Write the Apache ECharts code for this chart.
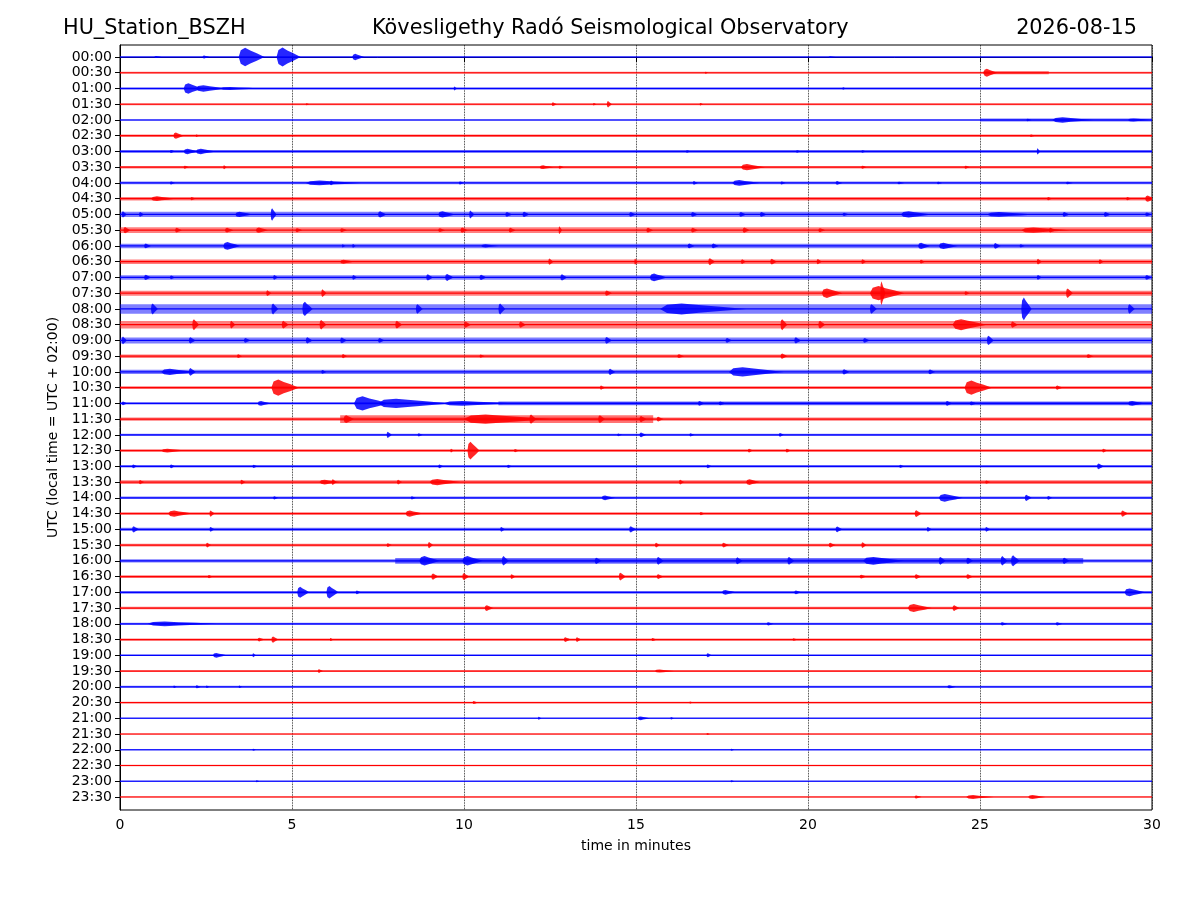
<!DOCTYPE html>
<html>
<head>
<meta charset="utf-8">
<script src="https://cdn.jsdelivr.net/npm/echarts@6/dist/echarts.min.js"></script>
<style>html,body{margin:0;padding:0;background:#fff}#c{width:1200px;height:900px}</style>
</head>
<body>
<div id="c"></div>
<script>
// Row (tick) labels, top to bottom
const tickLabels = ["00:00","00:30","01:00","01:30","02:00","02:30","03:00","03:30","04:00","04:30",
  "05:00","05:30","06:00","06:30","07:00","07:30","08:00","08:30","09:00","09:30",
  "10:00","10:30","11:00","11:30","12:00","12:30","13:00","13:30","14:00","14:30",
  "15:00","15:30","16:00","16:30","17:00","17:30","18:00","18:30","19:00","19:30",
  "20:00","20:30","21:00","21:30","22:00","22:30","23:00","23:30"];
const xTicks = [0, 5, 10, 15, 20, 25, 30];

// Background noise half-amplitude of each row (in row-spacing units)
const noiseLevel = [0.05,0.07,0.08,0.07,0.05,0.08,0.09,0.08,0.09,0.11,
  0.17,0.18,0.14,0.14,0.14,0.16,0.30,0.24,0.19,0.11,
  0.13,0.09,0.07,0.11,0.07,0.08,0.08,0.12,0.08,0.08,
  0.10,0.09,0.10,0.09,0.09,0.08,0.07,0.07,0.05,0.05,
  0.06,0.05,0.05,0.04,0.05,0.05,0.04,0.04];

// Stretches of raised noise: [row, start min, end min, half-amplitude]
const noiseSegments = [
  [1,25.1,27.0,0.1],[4,25,30,0.09],[22,11,30,0.12],[23,6.4,15.5,0.24],[32,8,28,0.18]
];

// Wave bursts: [row, start min, end min, peak half-amplitude]
const bursts = [
 [0,1.0,1.2,0.06],[0,2.4,2.6,0.1],[0,3.45,4.2,0.58],[0,4.55,5.25,0.6],[0,6.75,7.1,0.2],[0,20.6,20.8,0.05],
 [1,25.1,25.5,0.25],[1,17.0,17.1,0.06],
 [2,1.85,2.4,0.33],[2,2.2,3.1,0.2],[2,2.9,4.1,0.1],[2,9.7,9.8,0.12],[2,21.0,21.1,0.08],
 [3,12.55,12.7,0.12],[3,13.75,13.85,0.08],[3,14.15,14.3,0.2],[3,16.85,16.95,0.08],[3,5.4,5.5,0.06],
 [4,27.1,28.3,0.17],[4,29.3,29.95,0.1],[4,26.35,26.5,0.08],
 [5,1.55,1.85,0.2],[5,26.45,26.6,0.08],[5,2.2,2.3,0.08],
 [6,1.85,2.3,0.17],[6,2.2,2.8,0.17],[6,1.45,1.6,0.1],[6,26.65,26.75,0.2],[6,16.45,16.6,0.08],[6,19.65,19.8,0.08],[6,21.55,21.7,0.08],
 [7,1.85,2.0,0.1],[7,3.0,3.1,0.13],[7,12.2,12.6,0.12],[7,12.75,12.9,0.1],[7,18.05,18.75,0.2],[7,21.55,21.7,0.1],[7,24.55,24.7,0.1],
 [8,1.45,1.6,0.1],[8,5.4,7.0,0.15],[8,6.1,6.25,0.15],[8,9.85,10.0,0.1],[8,16.65,16.8,0.12],[8,17.8,18.6,0.18],[8,19.2,19.35,0.1],[8,20.8,21.0,0.12],[8,22.6,22.8,0.08],[8,23.75,23.9,0.08],[8,27.5,27.7,0.08],
 [9,0.9,1.6,0.15],[9,2.05,2.2,0.1],[9,26.95,27.1,0.1],[9,29.25,29.4,0.1],[9,29.8,30.1,0.2],
 [10,0.05,0.2,0.2],[10,0.55,0.7,0.15],[10,3.35,3.85,0.17],[10,4.38,4.55,0.4],[10,7.5,7.75,0.2],[10,9.25,9.75,0.2],[10,10.15,10.3,0.25],[10,11.2,11.4,0.15],[10,11.7,11.9,0.17],[10,14.8,15.0,0.15],[10,16.6,16.8,0.15],[10,18.0,18.2,0.15],[10,18.6,18.8,0.15],[10,21.0,21.2,0.1],[10,22.7,23.6,0.2],[10,25.2,26.6,0.15],[10,27.4,27.6,0.15],[10,28.6,28.8,0.15],[10,29.8,30.0,0.12],
 [11,0.1,0.3,0.2],[11,1.6,1.8,0.15],[11,3.05,3.3,0.15],[11,3.95,4.3,0.17],[11,5.1,5.3,0.13],[11,6.4,6.6,0.13],[11,9.25,9.45,0.12],[11,9.9,10.1,0.17],[11,11.3,11.5,0.15],[11,12.75,12.85,0.25],[11,15.3,15.5,0.15],[11,16.6,16.8,0.15],[11,18.1,18.3,0.17],[11,20.3,20.5,0.13],[11,26.2,27.6,0.17],[11,27.0,27.2,0.15],
 [12,0.7,0.9,0.15],[12,3.0,3.5,0.25],[12,6.45,6.55,0.1],[12,6.75,6.85,0.12],[12,10.5,11.0,0.1],[12,16.5,16.7,0.15],[12,17.2,17.4,0.15],[12,23.2,23.55,0.2],[12,23.8,24.35,0.2],[12,25.4,25.6,0.18],[12,26.15,26.3,0.1],
 [13,6.4,6.8,0.13],[13,12.45,12.6,0.2],[13,14.95,15.05,0.2],[13,17.1,17.3,0.22],[13,18.05,18.2,0.15],[13,18.9,19.1,0.18],[13,20.25,20.4,0.17],[13,21.55,21.7,0.15],[13,23.25,23.4,0.12],[13,26.65,26.8,0.18],[13,28.45,28.6,0.15],
 [14,0.7,0.9,0.17],[14,1.45,1.6,0.12],[14,4.45,4.6,0.15],[14,6.75,6.9,0.15],[14,8.9,9.1,0.2],[14,9.45,9.7,0.22],[14,10.45,10.65,0.17],[14,12.8,13.0,0.2],[14,15.4,15.9,0.25],[14,26.65,26.8,0.15],[14,29.8,30.0,0.15],
 [15,4.25,4.4,0.18],[15,5.85,6.0,0.25],[15,14.1,14.3,0.17],[15,20.4,21.0,0.3],[15,21.8,22.8,0.45],[15,22.1,22.25,0.76],[15,27.5,27.7,0.3],[15,24.55,24.7,0.12],
 [16,0.9,1.1,0.35],[16,4.4,4.6,0.35],[16,5.3,5.6,0.45],[16,8.6,8.8,0.3],[16,11.0,11.2,0.35],[16,15.7,18.2,0.35],[16,21.8,22.0,0.3],[16,26.2,26.5,0.72],[16,29.3,29.5,0.3],
 [17,2.1,2.3,0.35],[17,3.2,3.35,0.25],[17,4.7,4.9,0.25],[17,5.8,6.0,0.3],[17,8.0,8.2,0.25],[17,10.0,10.2,0.2],[17,11.6,11.8,0.2],[17,19.2,19.4,0.35],[17,20.3,20.5,0.25],[17,24.2,25.2,0.35],[17,25.9,26.1,0.2],
 [18,0.05,0.2,0.25],[18,2.0,2.2,0.2],[18,3.6,3.8,0.15],[18,5.4,5.6,0.2],[18,6.4,6.6,0.18],[18,7.5,7.7,0.15],[18,14.1,14.3,0.22],[18,17.6,17.8,0.15],[18,19.6,19.8,0.2],[18,21.6,21.8,0.15],[18,25.2,25.4,0.3],
 [19,3.4,3.55,0.12],[19,6.45,6.6,0.13],[19,10.45,10.6,0.1],[19,16.2,16.4,0.12],[19,19.2,19.4,0.17],[19,28.1,28.3,0.12],
 [20,1.2,2.2,0.2],[20,2.0,2.2,0.25],[20,5.85,6.0,0.12],[20,14.2,14.4,0.2],[20,17.7,19.3,0.3],[20,21.0,21.2,0.17],[20,23.5,23.7,0.15],
 [21,4.4,5.2,0.52],[21,13.95,14.1,0.13],[21,24.55,25.35,0.45],[21,27.2,27.4,0.13],
 [22,0.05,0.2,0.12],[22,4.0,4.4,0.15],[22,6.8,7.8,0.45],[22,7.5,9.6,0.3],[22,9.4,11.6,0.15],[22,16.8,17.0,0.15],[22,17.4,17.6,0.12],[22,24.0,24.2,0.15],[22,24.7,24.9,0.12],[22,29.3,29.8,0.15],
 [23,6.5,6.8,0.25],[23,10.0,12.5,0.3],[23,11.9,12.1,0.3],[23,13.9,14.1,0.25],[23,15.1,15.3,0.2],[23,15.6,15.8,0.15],
 [24,7.75,7.9,0.2],[24,8.65,8.8,0.1],[24,14.45,14.6,0.08],[24,15.1,15.3,0.15],[24,16.55,16.7,0.1],[24,19.15,19.3,0.12],
 [25,1.2,1.9,0.12],[25,10.1,10.45,0.57],[25,9.6,9.7,0.12],[25,11.45,11.6,0.1],[25,18.25,18.4,0.12],[25,19.35,19.5,0.12],[25,28.55,28.7,0.12],
 [26,0.35,0.5,0.12],[26,1.45,1.6,0.12],[26,3.85,4.0,0.1],[26,9.25,9.4,0.12],[26,11.25,11.4,0.1],[26,17.05,17.2,0.12],[26,22.65,22.8,0.1],[26,28.4,28.6,0.18],
 [27,0.55,0.7,0.13],[27,3.5,3.65,0.15],[27,5.8,6.4,0.15],[27,6.15,6.3,0.18],[27,8.05,8.2,0.15],[27,9.0,9.9,0.2],[27,16.25,16.4,0.15],[27,18.2,18.6,0.18],[27,25.15,25.3,0.1],
 [28,4.45,4.6,0.1],[28,8.45,8.6,0.1],[28,14.0,14.4,0.15],[28,23.8,24.5,0.25],[28,26.3,26.5,0.2],[28,26.95,27.1,0.12],
 [29,1.4,2.1,0.2],[29,2.6,2.75,0.2],[29,8.3,8.8,0.2],[29,23.1,23.3,0.22],[29,29.1,29.3,0.2],[29,16.85,17.0,0.1],
 [30,0.35,0.55,0.2],[30,2.6,2.75,0.15],[30,11.05,11.2,0.15],[30,14.8,15.0,0.2],[30,20.8,21.0,0.18],[30,23.45,23.6,0.15],[30,25.15,25.3,0.15],
 [31,2.5,2.65,0.15],[31,7.75,7.9,0.12],[31,8.95,9.1,0.2],[31,15.55,15.7,0.15],[31,17.5,17.7,0.15],[31,20.6,20.8,0.15],[31,21.55,21.7,0.18],
 [32,8.7,9.3,0.3],[32,9.95,10.55,0.3],[32,11.1,11.3,0.3],[32,13.8,14.0,0.2],[32,15.6,15.8,0.25],[32,17.9,18.1,0.22],[32,19.4,19.6,0.25],[32,21.6,22.8,0.25],[32,23.8,24.0,0.25],[32,24.6,24.8,0.2],[32,25.6,25.8,0.3],[32,25.9,26.15,0.35],[32,27.4,27.6,0.2],
 [33,2.55,2.7,0.1],[33,9.05,9.25,0.2],[33,9.95,10.15,0.22],[33,11.35,11.5,0.15],[33,14.5,14.7,0.25],[33,15.6,15.8,0.15],[33,21.5,21.7,0.12],[33,23.1,23.3,0.15],[33,24.6,24.8,0.15],
 [34,5.15,5.5,0.35],[34,6.0,6.35,0.4],[34,6.85,7.0,0.12],[34,17.5,17.9,0.15],[34,19.6,19.8,0.12],[34,29.2,29.8,0.25],
 [35,10.6,10.85,0.18],[35,22.9,23.6,0.25],[35,24.2,24.4,0.18],
 [36,0.8,2.8,0.15],[36,18.8,19.0,0.1],[36,25.6,25.8,0.1],[36,27.2,27.4,0.1],
 [37,4.0,4.2,0.12],[37,4.4,4.6,0.2],[37,6.1,6.2,0.1],[37,12.9,13.1,0.15],[37,13.25,13.4,0.15],[37,15.45,15.6,0.1],[37,19.55,19.7,0.08],
 [38,2.7,3.1,0.15],[38,3.85,3.95,0.13],[38,17.05,17.2,0.13],
 [39,5.75,5.9,0.12],[39,15.55,16.1,0.1],
 [40,1.55,1.65,0.08],[40,2.2,2.35,0.1],[40,2.5,2.6,0.08],[40,3.45,3.55,0.08],[40,24.05,24.3,0.1],
 [41,10.25,10.4,0.1],[41,16.55,16.65,0.07],
 [42,12.15,12.25,0.1],[42,15.05,15.4,0.12],[42,16.0,16.1,0.08],
 [43,17.05,17.15,0.06],
 [44,3.85,3.95,0.07],[44,17.75,17.85,0.07],
 [46,3.95,4.05,0.07],[46,17.75,17.85,0.07],
 [47,23.1,23.3,0.1],[47,24.6,25.4,0.12],[47,26.4,26.9,0.13]
];

const BLUE = '#0000ff', RED = '#ff0000';
const rowColor = i => (i % 2 === 0 ? BLUE : RED);
const FONT = "'DejaVu Sans', sans-serif";

const chart = echarts.init(document.getElementById('c'), null, {renderer: 'canvas'});

const traceData = noiseLevel.map((n, i) => [i, n]);
const titleStyle = {fontFamily: FONT, fontSize: 20.8, fontWeight: 'normal', color: '#000'};

chart.setOption({
  animation: false,
  backgroundColor: '#fff',
  title: [
    {text: 'HU_Station_BSZH', left: 63, top: 18, padding: 0, textStyle: titleStyle},
    {text: 'Kövesligethy Radó Seismological Observatory', left: 372, top: 18, padding: 0, textStyle: titleStyle},
    {text: '2026-08-15', right: 63, top: 18, padding: 0, textStyle: titleStyle}
  ],
  grid: {left: 120, right: 48, top: 45, bottom: 90, show: true, borderColor: '#000', borderWidth: 1, backgroundColor: 'transparent'},
  xAxis: {
    type: 'value', min: xTicks[0], max: xTicks[xTicks.length - 1], interval: 5,
    name: 'time in minutes', nameLocation: 'middle', nameGap: 29,
    nameTextStyle: {fontFamily: FONT, fontSize: 14, color: '#000'},
    axisLine: {show: true, lineStyle: {color: '#000', width: 1}},
    axisTick: {show: true, length: 5, lineStyle: {color: '#000'}},
    axisLabel: {fontFamily: FONT, fontSize: 14, color: '#000', margin: 8},
    splitLine: {show: true, lineStyle: {color: '#000', type: 'dotted', width: 0.8}}
  },
  yAxis: {
    type: 'value', inverse: true, min: -0.762, max: 47.826,
    name: 'UTC (local time = UTC + 02:00)', nameLocation: 'middle', nameGap: 56,
    nameTextStyle: {fontFamily: FONT, fontSize: 14, color: '#000'},
    axisLine: {show: true, lineStyle: {color: '#000', width: 1}},
    axisTick: {show: true, length: 5, lineStyle: {color: '#000'}, customValues: tickLabels.map((_, i) => i)},
    axisLabel: {fontFamily: FONT, fontSize: 14, color: '#000', margin: 8,
      customValues: tickLabels.map((_, i) => i),
      formatter: v => tickLabels[Math.round(v)] || ''},
    splitLine: {show: false}
  },
  series: [
    {
      type: 'custom', name: 'noise', clip: true, data: traceData,
      encode: {x: -1, y: 0},
      renderItem: (params, api) => {
        const i = api.value(0), n = api.value(1);
        const p0 = api.coord([0, i - n]);
        const p1 = api.coord([30, i + n]);
        const c0 = api.coord([0, i]);
        const c1 = api.coord([30, i]);
        const col = rowColor(i);
        return {type: 'group', children: [
          {type: 'rect', shape: {x: p0[0], y: Math.min(p0[1], p1[1]), width: p1[0] - p0[0], height: Math.abs(p1[1] - p0[1])},
           style: {fill: col, opacity: 0.5}},
          {type: 'line', shape: {x1: c0[0], y1: c0[1], x2: c1[0], y2: c1[1]}, style: {stroke: col, lineWidth: 1.2}}
        ]};
      }
    },
    {
      type: 'custom', name: 'segments', clip: true, data: noiseSegments,
      encode: {x: [1, 2], y: 0},
      renderItem: (params, api) => {
        const i = api.value(0), s = api.value(1), e = api.value(2), a = api.value(3);
        const p0 = api.coord([s, i - a]);
        const p1 = api.coord([e, i + a]);
        return {type: 'rect', shape: {x: p0[0], y: Math.min(p0[1], p1[1]), width: p1[0] - p0[0], height: Math.abs(p1[1] - p0[1])},
          style: {fill: rowColor(i), opacity: 0.55}};
      }
    },
    {
      type: 'custom', name: 'bursts', clip: true, data: bursts,
      encode: {x: [1, 2], y: 0},
      renderItem: (params, api) => {
        const i = api.value(0), s = api.value(1), e = api.value(2), a = api.value(3);
        const w = e - s;
        const shape = [[0, 0], [0.08, 0.75], [0.25, 1], [0.45, 0.7], [0.7, 0.4], [1, 0],
                       [0.7, -0.4], [0.45, -0.7], [0.25, -1], [0.08, -0.75]];
        const pts = shape.map(p => api.coord([s + p[0] * w, i + p[1] * a]));
        return {type: 'polygon', shape: {points: pts}, style: {fill: rowColor(i), opacity: 0.85}};
      }
    }
  ]
});
</script>
</body>
</html>
